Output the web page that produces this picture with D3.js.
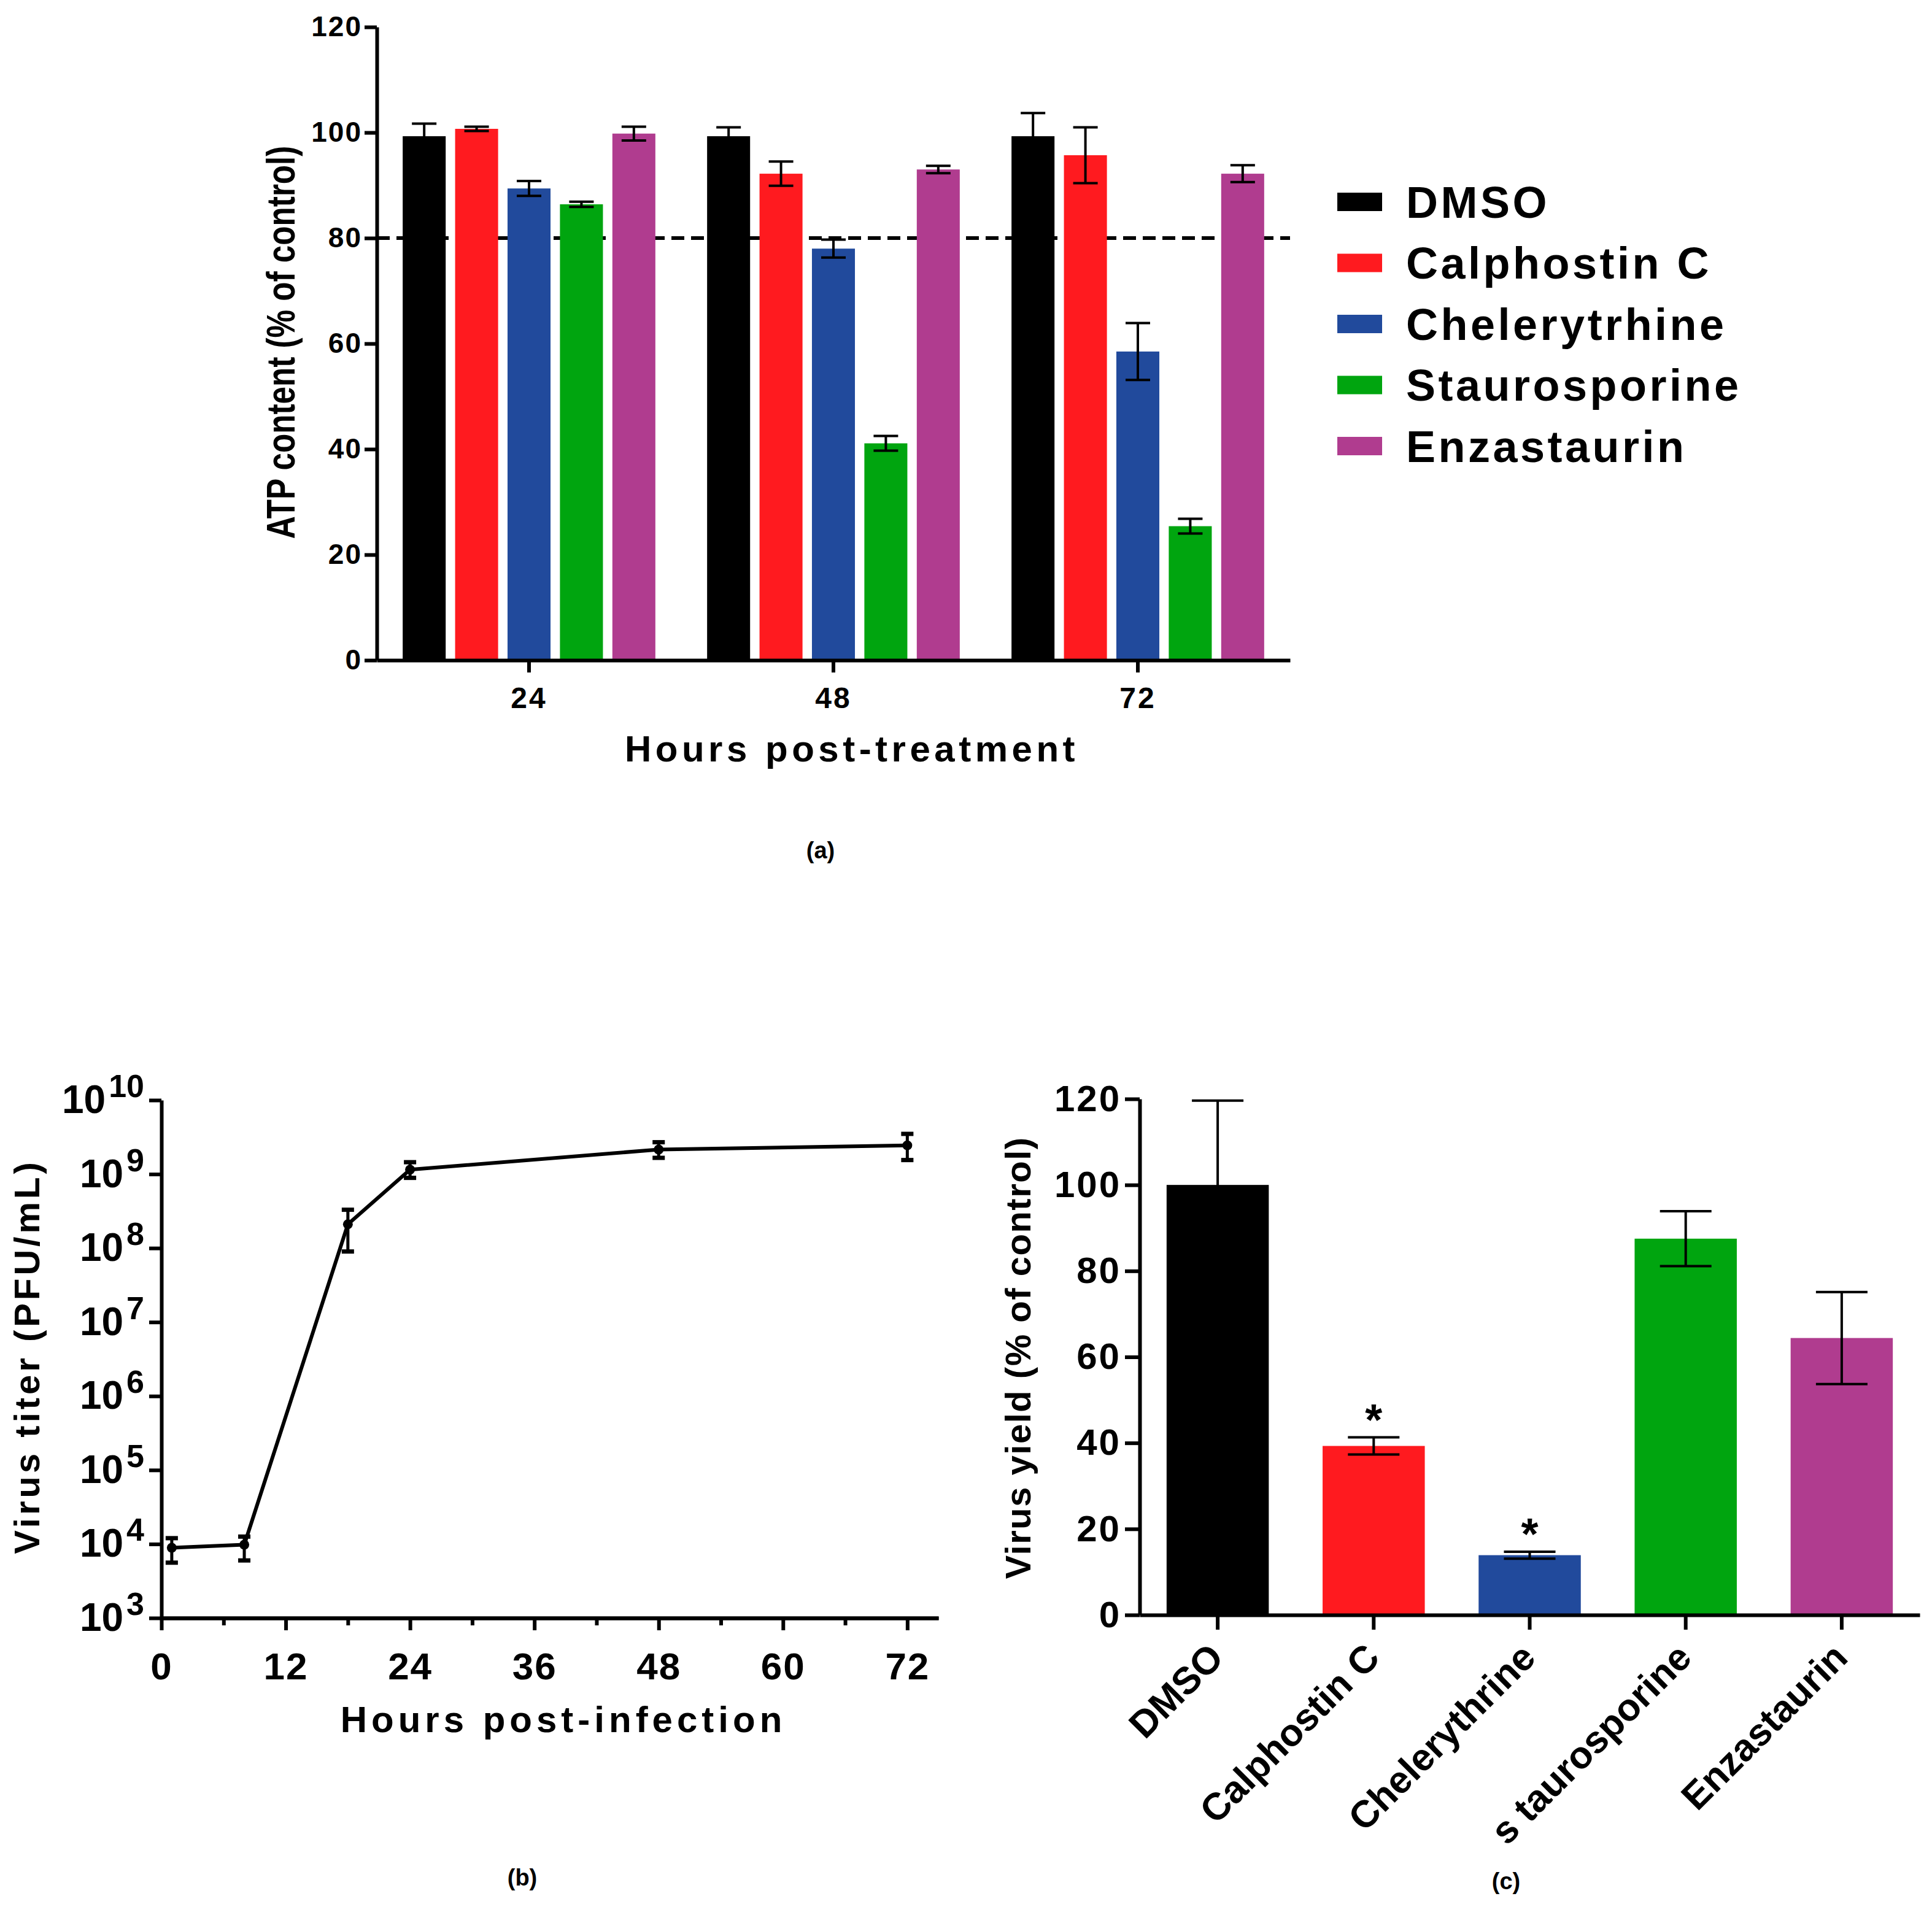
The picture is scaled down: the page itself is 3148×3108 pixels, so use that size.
<!DOCTYPE html>
<html>
<head>
<meta charset="utf-8">
<script src="https://cdn.jsdelivr.net/npm/d3@7"></script>
<style>
  body { margin: 0; background: #fff; }
  svg text { font-family: "Liberation Sans", Arial, Helvetica, sans-serif; font-weight: bold; fill: #000; }
</style>
</head>
<body>
<div id="chart"></div>
<script>
// ---- panel (a): ATP content ----
const atpHours = ['24', '48', '72'];
const treatments = ['DMSO', 'Calphostin C', 'Chelerytrhine', 'Staurosporine', 'Enzastaurin'];
const treatmentColors = ['#000000', '#ff1a1f', '#214a9c', '#00a50f', '#b03c8f'];
const atpDMSO = [99.3, 99.3, 99.3];
const atpCalphostin = [100.7, 92.2, 95.7];
const atpChelerythrine = [89.4, 78.0, 58.5];
const atpStaurosporine = [86.4, 41.1, 25.4];
const atpEnzastaurin = [99.8, 93.0, 92.2];
const atpErrDMSO = [2.4, 1.7, 4.4];
const atpErrCalphostin = [0.4, 2.3, 5.3];
const atpErrChelerythrine = [1.4, 1.7, 5.4];
const atpErrStaurosporine = [0.5, 1.4, 1.4];
const atpErrEnzastaurin = [1.3, 0.7, 1.6];
const atpTicks = [0, 20, 40, 60, 80, 100, 120];
const atpThreshold = 80;

// ---- panel (b): virus growth curve ----
const infHours = [1, 8, 18, 24, 48, 72];
const titer = [8.9e3, 9.8e3, 2.1e8, 1.15e9, 2.15e9, 2.45e9];
const titerLow = [5.6e3, 6.0e3, 9.0e7, 8.9e8, 1.66e9, 1.55e9];
const titerHigh = [1.2e4, 1.26e4, 3.3e8, 1.45e9, 2.7e9, 3.5e9];
const hourTicks = [0, 12, 24, 36, 48, 60, 72];
const hourMinorTicks = [6, 18, 30, 42, 54, 66];
const titerTicks = [1e3, 1e4, 1e5, 1e6, 1e7, 1e8, 1e9, 1e10];

// ---- panel (c): virus yield ----
const yieldCats = ['DMSO', 'Calphostin C', 'Chelerythrine', 's taurosporine', 'Enzastaurin'];
const yieldValues = [100, 39.3, 13.9, 87.5, 64.4];
const yieldErr = [19.6, 2.0, 0.8, 6.4, 10.7];
const yieldSig = ['', '*', '*', '', ''];
const yieldTicks = [0, 20, 40, 60, 80, 100, 120];

const W = 3148, H = 3108;
const svg = d3.select('#chart').append('svg')
    .attr('width', W).attr('height', H)
    .attr('viewBox', [0, 0, W, H]);
svg.append('rect').attr('width', W).attr('height', H).attr('fill', '#fff');

const styleAxis = (g, fs, ls, sw) => {
    g.select('.domain').attr('stroke', '#000').attr('stroke-width', sw);
    g.selectAll('.tick line').attr('stroke', '#000').attr('stroke-width', sw);
    g.selectAll('.tick text').attr('font-size', fs).attr('letter-spacing', ls);
};

/* ================= panel (a) ================= */
const a = { left: 614, right: 2102, top: 44, bottom: 1076 };
const atpMeans = [atpDMSO, atpCalphostin, atpChelerythrine, atpStaurosporine, atpEnzastaurin];
const atpErrs = [atpErrDMSO, atpErrCalphostin, atpErrChelerythrine, atpErrStaurosporine, atpErrEnzastaurin];
const atpRows = atpHours.map((h, i) => ({
    hour: h,
    bars: treatments.map((t, j) => ({ t, v: atpMeans[j][i], e: atpErrs[j][i], c: treatmentColors[j] }))
}));

const xa0 = d3.scaleBand().domain(atpHours).range([a.left, a.right]).paddingInner(0.17).paddingOuter(0.085);
const xa1 = d3.scaleBand().domain(treatments).range([0, xa0.bandwidth()]).paddingInner(0.18);
const ya = d3.scaleLinear().domain([0, 120]).range([a.bottom, a.top]);

// dashed 80% line, behind the bars
svg.append('line')
    .attr('x1', a.left).attr('x2', a.right)
    .attr('y1', ya(atpThreshold)).attr('y2', ya(atpThreshold))
    .attr('stroke', '#000').attr('stroke-width', 6)
    .attr('stroke-dasharray', '21,11');

const groupsA = svg.append('g').selectAll('g')
    .data(atpRows)
    .join('g')
    .attr('transform', d => `translate(${xa0(d.hour)},0)`);

groupsA.selectAll('rect')
    .data(d => d.bars)
    .join('rect')
    .attr('x', d => xa1(d.t))
    .attr('y', d => ya(d.v))
    .attr('width', xa1.bandwidth())
    .attr('height', d => ya(0) - ya(d.v))
    .attr('fill', d => d.c);

const capA = 20;
const errA = groupsA.selectAll('g.err')
    .data(d => d.bars)
    .join('g').attr('class', 'err')
    .attr('stroke', '#000').attr('stroke-width', 4);
errA.append('line')
    .attr('x1', d => xa1(d.t) + xa1.bandwidth() / 2).attr('x2', d => xa1(d.t) + xa1.bandwidth() / 2)
    .attr('y1', d => ya(d.v - d.e)).attr('y2', d => ya(d.v + d.e));
errA.append('line')
    .attr('x1', d => xa1(d.t) + xa1.bandwidth() / 2 - capA).attr('x2', d => xa1(d.t) + xa1.bandwidth() / 2 + capA)
    .attr('y1', d => ya(d.v + d.e)).attr('y2', d => ya(d.v + d.e));
errA.append('line')
    .attr('x1', d => xa1(d.t) + xa1.bandwidth() / 2 - capA).attr('x2', d => xa1(d.t) + xa1.bandwidth() / 2 + capA)
    .attr('y1', d => ya(d.v - d.e)).attr('y2', d => ya(d.v - d.e));

svg.append('g')
    .attr('transform', `translate(${a.left},0)`)
    .call(d3.axisLeft(ya).tickValues(atpTicks).tickSize(20).tickSizeOuter(0).tickPadding(4))
    .call(g => styleAxis(g, 46, 2, 6));

svg.append('g')
    .attr('transform', `translate(0,${a.bottom})`)
    .call(d3.axisBottom(xa0).tickSize(20).tickSizeOuter(0).tickPadding(24))
    .call(g => styleAxis(g, 48, 3, 6));

// condensed, tall axis title
svg.append('text')
    .attr('transform', 'translate(458,558) rotate(-90) scale(0.8,1)')
    .attr('dy', '0.35em')
    .attr('text-anchor', 'middle')
    .attr('font-size', 64).attr('letter-spacing', 0)
    .text('ATP content (% of control)');

svg.append('text')
    .attr('x', 1388).attr('y', 1241)
    .attr('text-anchor', 'middle')
    .attr('font-size', 60).attr('letter-spacing', 6.5)
    .text('Hours post-treatment');

// legend
const legend = svg.append('g').selectAll('g')
    .data(treatments)
    .join('g')
    .attr('transform', (d, i) => `translate(2179,${329 + i * 99.5})`);
legend.append('rect')
    .attr('x', 0).attr('y', -15).attr('width', 73).attr('height', 30)
    .attr('fill', (d, i) => treatmentColors[i]);
legend.append('text')
    .attr('x', 112).attr('dy', '0.36em')
    .attr('font-size', 72).attr('letter-spacing', 4.5)
    .text(d => d);

svg.append('text')
    .attr('x', 1337).attr('y', 1399)
    .attr('text-anchor', 'middle').attr('font-size', 38)
    .text('(a)');

/* ================= panel (b) ================= */
const b = { left: 263, right: 1529, top: 1793, bottom: 2637 };
const xb = d3.scaleLinear().domain([0, 75]).range([b.left, b.right]);
const yb = d3.scaleLog().domain([1e3, 1e10]).range([b.bottom, b.top]);
const growth = infHours.map((h, i) => ({ h, v: titer[i], lo: titerLow[i], hi: titerHigh[i] }));

svg.append('g')
    .attr('transform', `translate(0,${b.bottom})`)
    .call(d3.axisBottom(xb).tickValues(hourMinorTicks).tickSize(12).tickSizeOuter(0).tickFormat(''))
    .call(g => styleAxis(g, 62, 2, 6));
svg.append('g')
    .attr('transform', `translate(0,${b.bottom})`)
    .call(d3.axisBottom(xb).tickValues(hourTicks).tickSize(20).tickSizeOuter(0).tickPadding(36))
    .call(g => styleAxis(g, 62, 2, 6));

svg.append('g')
    .attr('transform', `translate(${b.left},0)`)
    .call(d3.axisLeft(yb).tickValues(titerTicks).tickSize(20).tickSizeOuter(0).tickPadding(8))
    .call(g => styleAxis(g, 64, 0, 6))
    .call(g => g.selectAll('.tick text').text(null)
        .call(t => {
            t.append('tspan').text('10');
            t.append('tspan')
                .attr('dy', '-0.5em').attr('font-size', 52).attr('dx', 5)
                .text(d => Math.round(Math.log10(d)));
        }));

svg.append('path')
    .datum(growth)
    .attr('fill', 'none')
    .attr('stroke', '#000')
    .attr('stroke-width', 6)
    .attr('stroke-linejoin', 'round')
    .attr('d', d3.line().x(d => xb(d.h)).y(d => yb(d.v)));

const errB = svg.append('g').selectAll('g')
    .data(growth)
    .join('g')
    .attr('stroke', '#000').attr('stroke-width', 5);
errB.append('line')
    .attr('x1', d => xb(d.h)).attr('x2', d => xb(d.h))
    .attr('y1', d => yb(d.lo)).attr('y2', d => yb(d.hi));
errB.append('line')
    .attr('x1', d => xb(d.h) - 10).attr('x2', d => xb(d.h) + 10)
    .attr('y1', d => yb(d.hi)).attr('y2', d => yb(d.hi))
    .attr('stroke-width', 7);
errB.append('line')
    .attr('x1', d => xb(d.h) - 10).attr('x2', d => xb(d.h) + 10)
    .attr('y1', d => yb(d.lo)).attr('y2', d => yb(d.lo))
    .attr('stroke-width', 7);
svg.append('g').selectAll('circle')
    .data(growth)
    .join('circle')
    .attr('cx', d => xb(d.h)).attr('cy', d => yb(d.v))
    .attr('r', 8).attr('fill', '#000');

svg.append('text')
    .attr('transform', 'translate(44,2211) rotate(-90)')
    .attr('dy', '0.35em')
    .attr('text-anchor', 'middle')
    .attr('font-size', 58).attr('letter-spacing', 5)
    .text('Virus titer (PFU/mL)');

svg.append('text')
    .attr('x', 918).attr('y', 2823)
    .attr('text-anchor', 'middle')
    .attr('font-size', 60).attr('letter-spacing', 7)
    .text('Hours post-infection');

svg.append('text')
    .attr('x', 851).attr('y', 3073)
    .attr('text-anchor', 'middle').attr('font-size', 38)
    .text('(b)');

/* ================= panel (c) ================= */
const c = { left: 1857, right: 3128, top: 1791, bottom: 2632 };
const xc = d3.scaleBand().domain(yieldCats).range([c.left, c.right]).paddingInner(0.345).paddingOuter(0.1725);
const yc = d3.scaleLinear().domain([0, 120]).range([c.bottom, c.top]);
const yieldData = yieldCats.map((k, i) => ({ k, v: yieldValues[i], e: yieldErr[i], s: yieldSig[i], c: treatmentColors[i] }));

svg.append('g').selectAll('rect')
    .data(yieldData)
    .join('rect')
    .attr('x', d => xc(d.k))
    .attr('y', d => yc(d.v))
    .attr('width', xc.bandwidth())
    .attr('height', d => yc(0) - yc(d.v))
    .attr('fill', d => d.c);

const capC = 42;
const errC = svg.append('g').selectAll('g')
    .data(yieldData)
    .join('g')
    .attr('stroke', '#000').attr('stroke-width', 4);
errC.append('line')
    .attr('x1', d => xc(d.k) + xc.bandwidth() / 2).attr('x2', d => xc(d.k) + xc.bandwidth() / 2)
    .attr('y1', d => yc(d.v - d.e)).attr('y2', d => yc(d.v + d.e));
errC.append('line')
    .attr('x1', d => xc(d.k) + xc.bandwidth() / 2 - capC).attr('x2', d => xc(d.k) + xc.bandwidth() / 2 + capC)
    .attr('y1', d => yc(d.v + d.e)).attr('y2', d => yc(d.v + d.e));
errC.append('line')
    .attr('x1', d => xc(d.k) + xc.bandwidth() / 2 - capC).attr('x2', d => xc(d.k) + xc.bandwidth() / 2 + capC)
    .attr('y1', d => yc(d.v - d.e)).attr('y2', d => yc(d.v - d.e));

svg.append('g').selectAll('text')
    .data(yieldData.filter(d => d.s))
    .join('text')
    .attr('x', d => xc(d.k) + xc.bandwidth() / 2)
    .attr('y', d => yc(d.v + d.e) - 4)
    .attr('text-anchor', 'middle')
    .attr('font-size', 72)
    .text(d => d.s);

svg.append('g')
    .attr('transform', `translate(${c.left},0)`)
    .call(d3.axisLeft(yc).tickValues(yieldTicks).tickSize(24).tickSizeOuter(0).tickPadding(6))
    .call(g => styleAxis(g, 60, 3, 6));

svg.append('g')
    .attr('transform', `translate(0,${c.bottom})`)
    .call(d3.axisBottom(xc).tickSize(24).tickSizeOuter(0).tickFormat(''))
    .call(g => styleAxis(g, 62, 0, 6));

svg.append('g').selectAll('text')
    .data(yieldCats)
    .join('text')
    .attr('transform', d => `translate(${xc(d) + xc.bandwidth() / 2 + 13},${c.bottom + 73}) rotate(-45)`)
    .attr('text-anchor', 'end')
    .attr('font-size', 62)
    .text(d => d);

svg.append('text')
    .attr('transform', 'translate(1659,2213) rotate(-90)')
    .attr('dy', '0.35em')
    .attr('text-anchor', 'middle')
    .attr('font-size', 58).attr('letter-spacing', 1.5)
    .text('Virus yield (% of control)');

svg.append('text')
    .attr('x', 2454).attr('y', 3079)
    .attr('text-anchor', 'middle').attr('font-size', 38)
    .text('(c)');
</script>
</body>
</html>
